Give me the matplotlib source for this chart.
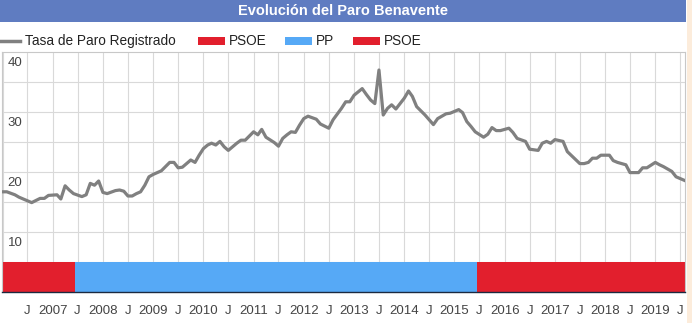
import numpy as np
import pandas as pd
import matplotlib
matplotlib.use("Agg")
import matplotlib.pyplot as plt
from matplotlib.lines import Line2D
from matplotlib.patches import Rectangle

plt.rcParams['font.family'] = ['Liberation Sans', 'DejaVu Sans']

# month index counted from Jan 2006, value = tasa de paro registrado (%)
months = [0, 1, 3, 4, 6, 7, 9, 10, 11, 13, 14, 15, 16, 17, 19, 20, 21, 22, 23, 24,
          25, 27, 28, 29, 30, 31, 32, 33, 34, 35, 36, 38, 39, 40, 41, 42, 43, 44, 45, 46,
          47, 48, 49, 50, 51, 52, 53, 54, 56, 57, 58, 60, 61, 62, 63, 65, 66, 67, 68, 69,
          70, 71, 72, 73, 75, 76, 78, 79, 81, 82, 83, 84, 86, 87, 88, 89, 90, 91, 92, 93,
          94, 96, 97, 98, 99, 101, 103, 104, 106, 107, 108, 109, 110, 111, 112, 113, 115, 116, 117, 118,
          119, 121, 122, 123, 125, 126, 128, 129, 130, 131, 132, 134, 135, 138, 139, 140, 141, 142, 143, 145,
          146, 147, 149, 150, 152, 153, 154, 156, 157, 158, 160, 161, 163]
tasa = [16.7, 16.7, 16.2, 15.8, 15.2, 14.9, 15.6, 15.6, 16.1, 16.2, 15.5, 17.7, 17.0, 16.4, 15.9, 16.2, 18.1, 17.8, 18.5, 16.6,
        16.4, 16.9, 17.0, 16.8, 16.0, 16.0, 16.4, 16.7, 17.8, 19.2, 19.6, 20.2, 20.9, 21.6, 21.6, 20.7, 20.8, 21.4, 22.0, 21.6,
        22.8, 23.9, 24.5, 24.8, 24.5, 25.1, 24.2, 23.6, 24.8, 25.3, 25.3, 26.7, 26.2, 27.1, 25.8, 24.9, 24.3, 25.6, 26.2, 26.7,
        26.6, 27.8, 28.9, 29.3, 28.8, 28.0, 27.3, 28.7, 30.6, 31.7, 31.7, 32.8, 33.9, 32.9, 32.0, 31.4, 37.0, 29.5, 30.6, 31.2,
        30.5, 32.3, 33.5, 32.6, 30.9, 29.5, 27.9, 28.9, 29.7, 29.8, 30.1, 30.4, 29.9, 28.4, 27.6, 26.7, 25.8, 26.3, 27.4, 26.9,
        26.9, 27.3, 26.6, 25.6, 25.1, 23.8, 23.6, 24.8, 25.1, 24.8, 25.4, 25.1, 23.4, 21.4, 21.4, 21.6, 22.3, 22.3, 22.8, 22.8,
        21.9, 21.6, 21.2, 19.9, 19.9, 20.7, 20.7, 21.6, 21.2, 20.9, 20.1, 19.2, 18.6]

# governing party periods
period_start = ["2006-01-01", "2007-06-15", "2015-06-13"]
period_end = ["2007-06-15", "2015-06-13", "2019-08-05"]
period_party = ["PSOE", "PP", "PSOE"]
party_color = {"PSOE": "#e21f2d", "PP": "#56a9f6"}
bar_height = 5

y_ticks = [10, 20, 30, 40]

dates = [pd.Timestamp(2006 + m // 12, m % 12 + 1, 1) for m in months]

fig = plt.figure(figsize=(6.92, 3.23), dpi=100)
ax = fig.add_axes([2/692, 1-292/323, 683/692, (292-52)/323])

# title bar + right strip
fig.patches.append(Rectangle((0, 1-22/323), 686/692, 22/323, transform=fig.transFigure,
                             facecolor="#5f7cc1", edgecolor="none"))
fig.patches.append(Rectangle((687/692, 0), 5/692, 1, transform=fig.transFigure,
                             facecolor="#fcecdb", edgecolor="none"))
fig.text(343/692, 1-11/323, "Evolución del Paro Benavente", color="white",
         fontsize=10.5, fontweight="bold", ha="center", va="center")

# legend drawn by hand
ly = 1-41/323
fig.lines.append(Line2D([0/692, 20/692], [ly, ly], transform=fig.transFigure,
                        color="#808080", lw=2.5))
fig.text(25/692, ly, "Tasa de Paro Registrado", fontsize=9.8, va="center", color="#222222")
leg_items = [(198, "PSOE", "#e21f2d"), (285, "PP", "#56a9f6"), (353, "PSOE", "#e21f2d")]
for x0, name, col in leg_items:
    fig.patches.append(Rectangle((x0/692, ly-4/323), 27/692, 8/323, transform=fig.transFigure,
                                 facecolor=col, edgecolor="none"))
    fig.text((x0+31)/692, ly, name, fontsize=9.8, va="center", color="#222222")

# party bars
for s, e, p in zip(period_start, period_end, period_party):
    ax.fill_between([pd.Timestamp(s), pd.Timestamp(e)], 0, bar_height,
                    color=party_color[p], lw=0, zorder=2)

ax.plot(dates, tasa, color="#808080", lw=2.3, zorder=3, solid_joinstyle="round")

ax.set_xlim(pd.Timestamp("2005-12-28"), pd.Timestamp("2019-08-05"))
ax.set_ylim(0, 40)

# grid
ax.set_yticks(np.arange(5, 40, 5))
ax.set_yticklabels([])
ax.tick_params(axis="y", length=0)
xt = pd.date_range("2006-01-01", "2019-07-01", freq="6MS")
ax.set_xticks(xt)
ax.set_xticklabels(["" if (d.year == 2006 and d.month == 1) else ("J" if d.month == 7 else str(d.year))
                    for d in xt], fontsize=9.5, color="#444444")
ax.tick_params(axis="x", length=0, pad=9)
ax.grid(True, color="#d9d9d9", lw=0.8, zorder=0)

for v in y_ticks:
    ax.text(0.008, v - 1.9, str(v), transform=ax.get_yaxis_transform(),
            fontsize=9.5, color="#444444", va="center", ha="left", zorder=4)

for side in ["top", "right", "left"]:
    ax.spines[side].set_color("#c8c8c8")
    ax.spines[side].set_linewidth(0.8)
ax.spines["bottom"].set_color("#1b2a40")
ax.spines["bottom"].set_linewidth(1.0)

fig.savefig("out.png", dpi=100)
